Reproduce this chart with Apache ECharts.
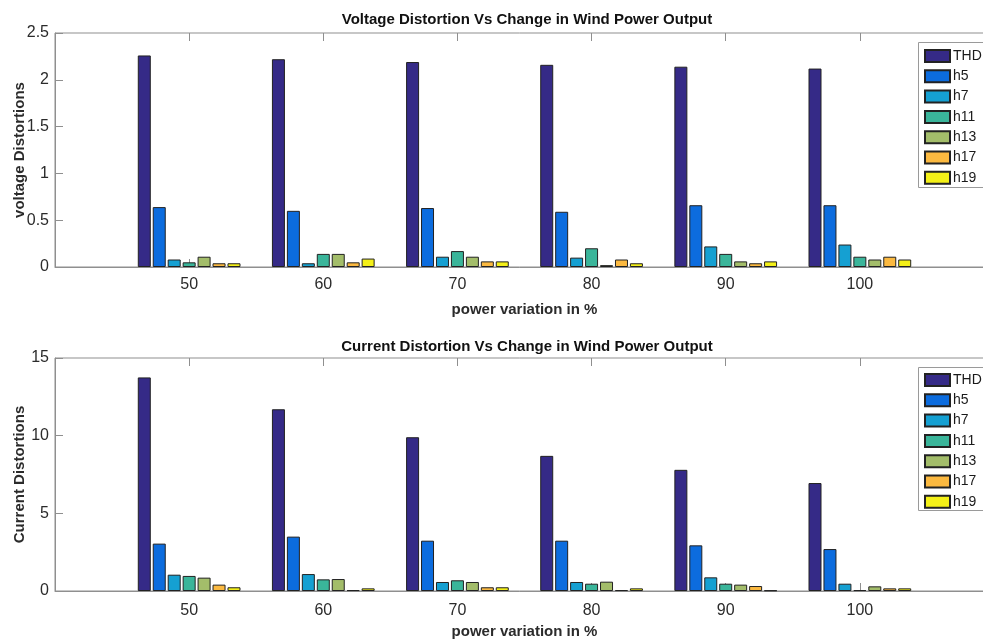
<!DOCTYPE html>
<html>
<head>
<meta charset="utf-8">
<title>Voltage and Current Distortion vs Wind Power Output</title>
<script src="https://cdn.jsdelivr.net/npm/echarts@6/dist/echarts.min.js"></script>
<style>
  html, body { margin: 0; padding: 0; background: #ffffff; }
  #chart { width: 983px; height: 639px; }
</style>
</head>
<body>
<div id="chart"></div>
<script>
// Power output levels (%) on the x axis
const categories = ['50', '60', '70', '80', '90', '100'];
const harmonicNames = ['THD', 'h5', 'h7', 'h11', 'h13', 'h17', 'h19'];

// Voltage distortion per harmonic at each power level
const voltageTHD = [2.26, 2.22, 2.19, 2.16, 2.14, 2.12];
const voltageH5  = [0.64, 0.60, 0.63, 0.59, 0.66, 0.66];
const voltageH7  = [0.08, 0.04, 0.11, 0.10, 0.22, 0.24];
const voltageH11 = [0.05, 0.14, 0.17, 0.20, 0.14, 0.11];
const voltageH13 = [0.11, 0.14, 0.11, 0.02, 0.06, 0.08];
const voltageH17 = [0.04, 0.05, 0.06, 0.08, 0.04, 0.11];
const voltageH19 = [0.04, 0.09, 0.06, 0.04, 0.06, 0.08];

// Current distortion per harmonic at each power level
const currentTHD = [13.75, 11.7, 9.9, 8.7, 7.8, 6.95];
const currentH5  = [3.05, 3.5, 3.24, 3.24, 2.94, 2.7];
const currentH7  = [1.05, 1.09, 0.58, 0.58, 0.88, 0.47];
const currentH11 = [0.97, 0.75, 0.69, 0.47, 0.47, 0.06];
const currentH13 = [0.86, 0.77, 0.58, 0.60, 0.41, 0.30];
const currentH17 = [0.41, 0.06, 0.24, 0.06, 0.32, 0.17];
const currentH19 = [0.24, 0.17, 0.24, 0.17, 0.04, 0.17];

const voltageTicks = { min: 0, max: 2.5, interval: 0.5 };
const currentTicks = { min: 0, max: 15, interval: 5 };

const voltageSeries = [voltageTHD, voltageH5, voltageH7, voltageH11, voltageH13, voltageH17, voltageH19];
const currentSeries = [currentTHD, currentH5, currentH7, currentH11, currentH13, currentH17, currentH19];
const palette = ['#352A87', '#0C6CDE', '#15A0D2', '#3AB59A', '#A3BD6A', '#FBB940', '#F4F018'];

const FONT = 'Liberation Sans, Arial, sans-serif';
const AXIS_GRAY = '#8f8f8f';
const TEXT_DARK = '#2b2b2b';

// Empty slots at both ends give the margins of the x range (40 .. 110)
const axisData = [''].concat(categories, ['']);
const padded = arr => [null].concat(arr, [null]);

function bottomXAxis(gridIndex, name, labelMargin, nameGap) {
  return {
    type: 'category', gridIndex, position: 'bottom', data: axisData, boundaryGap: false,
    axisLine: { show: true, lineStyle: { color: AXIS_GRAY, width: 1 } },
    axisTick: { show: true, inside: true, length: 8, interval: (i, v) => v !== '', lineStyle: { color: AXIS_GRAY } },
    axisLabel: { show: true, interval: 0, margin: labelMargin, color: TEXT_DARK, fontSize: 16, fontFamily: FONT },
    splitLine: { show: false },
    name, nameLocation: 'middle', nameGap, nameMoveOverlap: false,
    nameTextStyle: { fontSize: 15, fontWeight: 'bold', color: TEXT_DARK, fontFamily: FONT }
  };
}
function topXAxis(gridIndex) {
  return {
    type: 'category', gridIndex, position: 'top', data: axisData, boundaryGap: false,
    axisLine: { show: false },
    axisTick: { show: true, inside: true, length: 8, interval: (i, v) => v !== '', lineStyle: { color: AXIS_GRAY } },
    axisLabel: { show: false }, splitLine: { show: false }
  };
}
function yAxis(gridIndex, ticks, name) {
  return {
    type: 'value', gridIndex, min: ticks.min, max: ticks.max, interval: ticks.interval,
    axisLine: { show: true, lineStyle: { color: AXIS_GRAY, width: 1 } },
    axisTick: { show: true, inside: true, length: 8, lineStyle: { color: AXIS_GRAY } },
    axisLabel: { color: TEXT_DARK, fontSize: 16, fontFamily: FONT, margin: 6 },
    splitLine: { show: false },
    name, nameLocation: 'middle', nameGap: 28, nameRotate: 90, nameMoveOverlap: false,
    nameTextStyle: { fontSize: 15, fontWeight: 'bold', color: TEXT_DARK, fontFamily: FONT }
  };
}
function legend(top) {
  return {
    orient: 'vertical', left: 924, top, data: harmonicNames, selectedMode: false,
    icon: 'rect', itemWidth: 25, itemHeight: 12, itemGap: 6.3,
    padding: 0, borderWidth: 0, backgroundColor: 'transparent', z: 6,
    textStyle: { fontSize: 14, lineHeight: 14, color: '#1a1a1a', fontFamily: FONT, padding: [0, 0, 0, -2] }
  };
}
// White legend frame that runs past the right edge of the figure
function legendFrame(top, height) {
  return {
    type: 'rect', left: 918, top, z: 5, silent: true,
    shape: { width: 120, height },
    style: { fill: '#ffffff', stroke: '#9a9a9a', lineWidth: 1 }
  };
}

const series = [];
harmonicNames.forEach((name, i) => {
  const common = {
    type: 'bar', name, barWidth: 13, barGap: '15%',
    itemStyle: { color: palette[i], borderColor: '#222222', borderWidth: 1 },
    emphasis: { disabled: true }, animation: false
  };
  series.push(Object.assign({}, common, { xAxisIndex: 0, yAxisIndex: 0, data: padded(voltageSeries[i]) }));
  series.push(Object.assign({}, common, { xAxisIndex: 2, yAxisIndex: 1, data: padded(currentSeries[i]) }));
});

const chart = echarts.init(document.getElementById('chart'), null, { renderer: 'canvas' });
chart.setOption({
  backgroundColor: '#ffffff',
  animation: false,
  title: [
    { text: 'Voltage Distortion Vs Change in Wind Power Output', left: 527, top: 12, textAlign: 'center', padding: 0,
      textStyle: { fontSize: 15, fontWeight: 'bold', color: '#111111', fontFamily: FONT } },
    { text: 'Current Distortion Vs Change in Wind Power Output', left: 527, top: 339, textAlign: 'center', padding: 0,
      textStyle: { fontSize: 15, fontWeight: 'bold', color: '#111111', fontFamily: FONT } }
  ],
  grid: [
    { left: 55, top: 33, width: 939, height: 234, outerBoundsMode: 'none', containLabel: false,
      show: true, borderColor: AXIS_GRAY, borderWidth: 1, backgroundColor: 'transparent' },
    { left: 55, top: 358, width: 939, height: 233, outerBoundsMode: 'none', containLabel: false,
      show: true, borderColor: AXIS_GRAY, borderWidth: 1, backgroundColor: 'transparent' }
  ],
  xAxis: [
    bottomXAxis(0, 'power variation in %', 10, 35),
    topXAxis(0),
    bottomXAxis(1, 'power variation in %', 12, 33),
    topXAxis(1)
  ],
  yAxis: [
    yAxis(0, voltageTicks, 'voltage Distortions'),
    yAxis(1, currentTicks, 'Current Distortions')
  ],
  legend: [legend(49), legend(373)],
  graphic: [legendFrame(42, 145), legendFrame(367, 143)],
  series
});
</script>
</body>
</html>
